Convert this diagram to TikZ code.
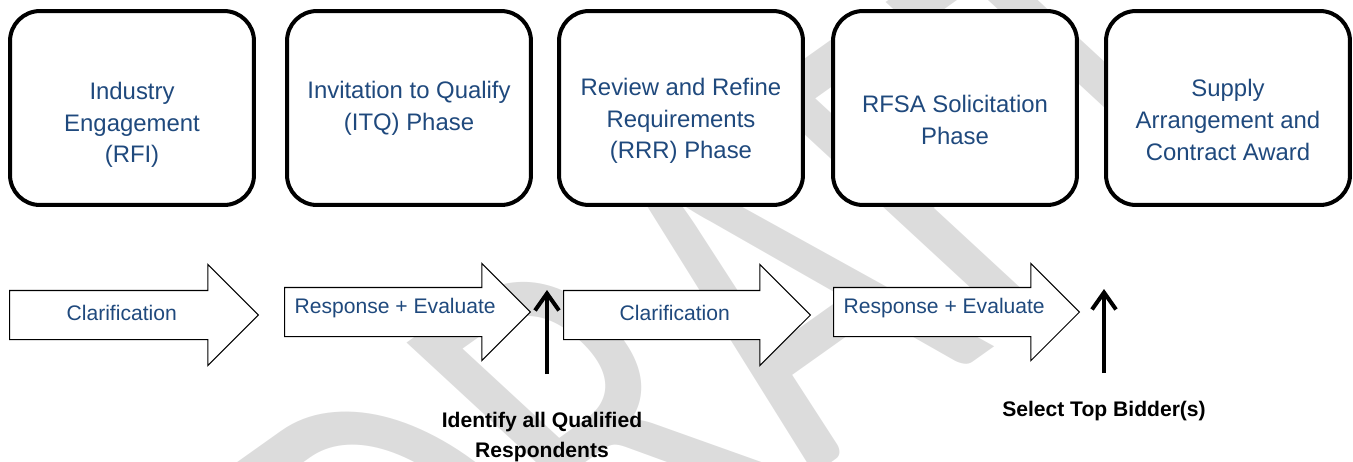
\documentclass[tikz,border=0pt]{standalone}
\usepackage{fontspec}
\setmainfont{Liberation Sans}
\newfontfamily\wmfont{Carlito}
\usepackage{tikz}
\usetikzlibrary{arrows.meta,shapes.arrows,positioning}
\definecolor{phaseblue}{HTML}{1F497D}
\definecolor{wmgray}{HTML}{DCDCDC}

\begin{document}
\begin{tikzpicture}[x=0.02cm, y=-0.02cm,
  phase/.style={draw, fill=white, line width=0.08cm, rounded corners=0.6cm,
    minimum width=4.88cm, minimum height=3.88cm},
  phasetext/.style={text=phaseblue, align=center,
    font=\fontsize{13.6}{18.1}\selectfont},
  flow/.style={single arrow, draw, fill=white, line width=0.6pt, anchor=tail,
    single arrow head indent=0pt, text=phaseblue, inner ysep=0.28cm,
    font=\fontsize{12}{14}\selectfont},
  clar/.style={flow, single arrow head extend=0.52cm, text height=0.3cm, text depth=0.1cm},
  resp/.style={flow, single arrow head extend=0.48cm, text height=0.23cm, text depth=0.17cm},
  pick/.style={align=center, font=\bfseries\fontsize{12}{17}\selectfont},
  upline/.style={line width=0.08cm, -{Straight Barb[length=3.4mm, width=4.8mm]}},
  watermark/.style={anchor=base west, transform shape, inner sep=0pt, text=wmgray,
    font=\wmfont\fontsize{100}{100}\selectfont}]
  \useasboundingbox (0,0) rectangle (1353,461);

  % watermark behind everything
  \begin{scope}
    \clip (0,0) rectangle (1353,461);
    \begin{scope}[shift={(641.6,597.5)}, cm={1.793,1.274,-2.290,2.115,(0,0)}]
      \node[watermark] (wm) at (-61.5pt,0pt) {DRAFT};
    \end{scope}
  \end{scope}

  % phases
  \node[phase] (b1) at (132,108) {};
  \node[phase] (b2) at (409,108) {};
  \node[phase] (b3) at (681,108) {};
  \node[phase] (b4) at (955,108) {};
  \node[phase] (b5) at (1228,108) {};
  \node[phasetext] (t1) at (132,125) {Industry\\Engagement\\(RFI)};
  \node[phasetext] (t2) at (409,108) {Invitation to Qualify\\(ITQ) Phase};
  \node[phasetext] (t3) at (681,121) {Review and Refine\\Requirements\\(RRR) Phase};
  \node[phasetext] (t4) at (955,120) {RFSA Solicitation\\Phase};
  \node[phasetext] (t5) at (1228,120) {Supply\\Arrangement and\\Contract Award};

  % process arrows
  \node[clar, minimum height=4.98cm] (a1) at (9,315) {Clarification};
  \node[resp, minimum height=4.92cm] (a2) at (284,312) {Response + Evaluate};
  \node[clar, minimum height=4.94cm] (a3) at (563,315) {Clarification};
  \node[resp, minimum height=4.92cm] (a4) at (833,312) {Response + Evaluate};

  % decision points
  \node[pick] (qual) at (542,437) {Identify all Qualified\\Respondents};
  \node[pick] (top) at (1104,411) {Select Top Bidder(s)};
  \coordinate (q1) at (547,374);
  \coordinate (q2) at (547,290);
  \coordinate (s1) at (1104,373);
  \coordinate (s2) at (1104,289);
  \draw[upline] (q1) -- (q2);
  \draw[upline] (s1) -- (s2);
\end{tikzpicture}
\end{document}
